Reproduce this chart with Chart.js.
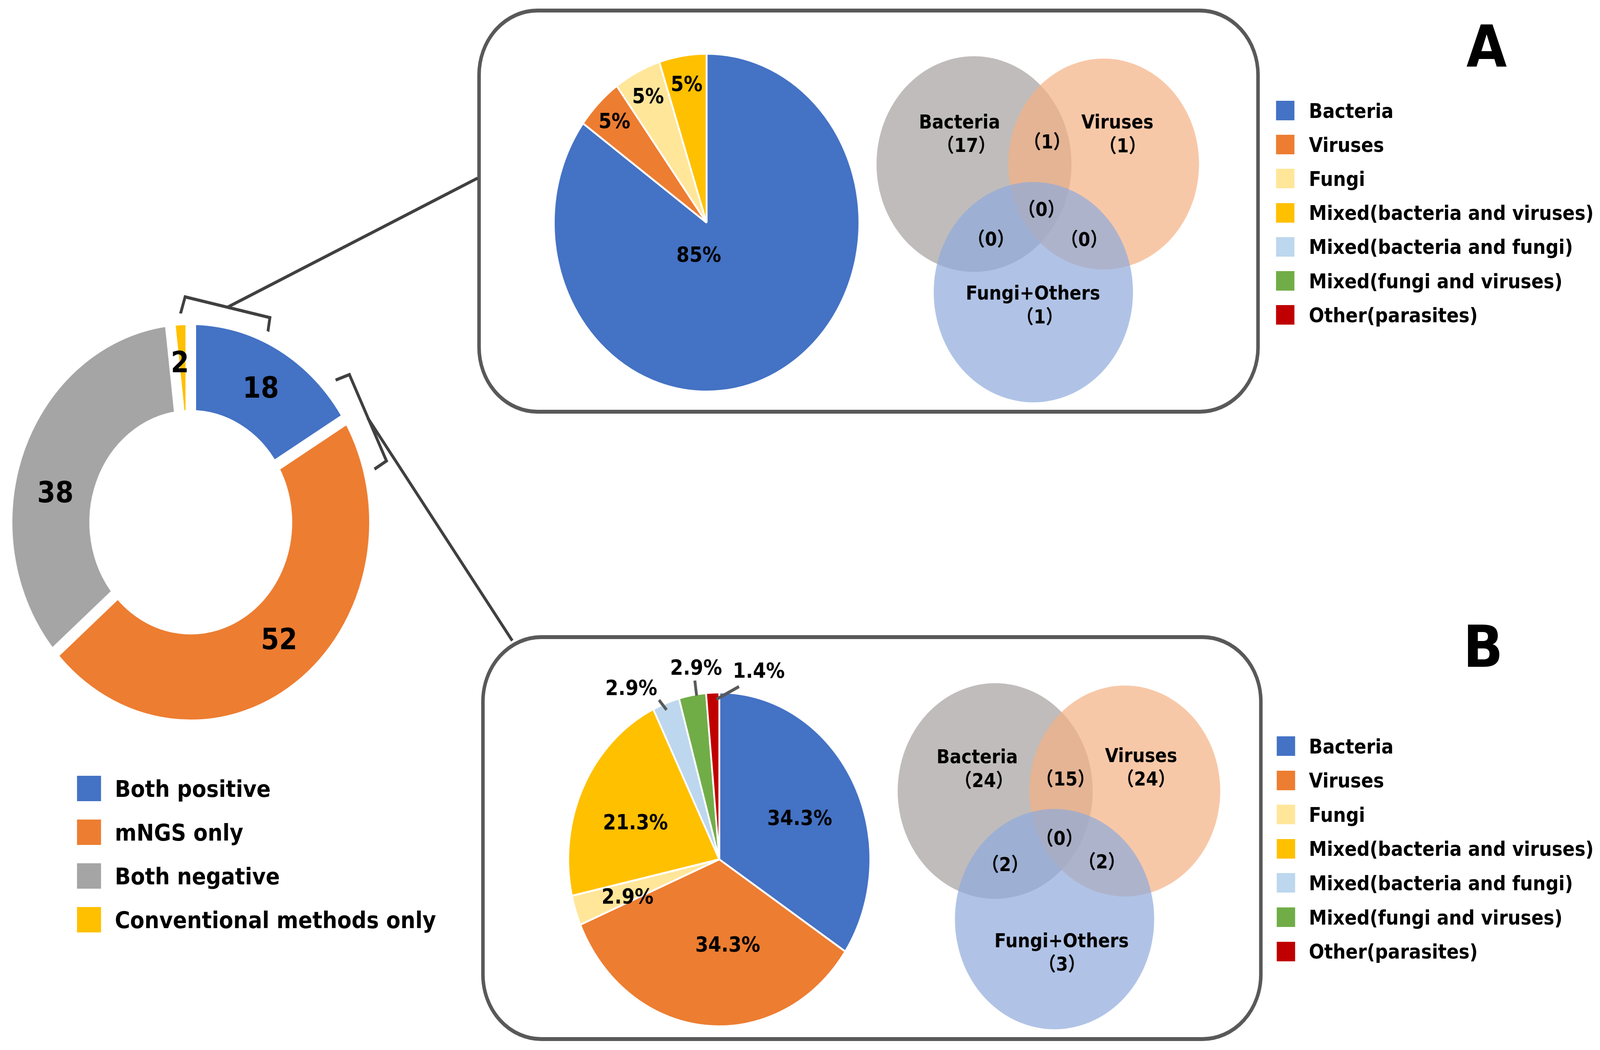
<!DOCTYPE html>
<html>
<head>
<meta charset="utf-8">
<script src="https://cdn.jsdelivr.net/npm/chart.js@4.4.1/dist/chart.umd.min.js"></script>
<style>
  html, body { margin:0; padding:0; background:#fff; width:100%; height:100%; overflow:hidden; }
  #page { position:absolute; left:0; top:0; width:4529px; height:2688px; background:#fff; transform-origin:0 0; }
  canvas.cv { position:absolute; }
  .lbl { position:absolute; font-family:"DejaVu Sans", sans-serif; font-weight:bold; color:#000; white-space:nowrap; line-height:1; }
</style>
</head>
<body>
<div id="page">
  <svg id="frame" width="4529" height="2688" style="position:absolute;left:0;top:0">
    <rect x="1356" y="27" width="2205" height="1027" rx="165" ry="165" fill="none" stroke="#595959" stroke-width="10"/>
    <rect x="1367" y="1631" width="2202" height="1029" rx="165" ry="165" fill="none" stroke="#595959" stroke-width="10"/>
    <polyline points="511,803 524,760 764,813 758,851" fill="none" stroke="#404040" stroke-width="8"/>
    <line x1="645" y1="786" x2="1352" y2="456" stroke="#404040" stroke-width="8"/>
    <polyline points="950,973 989,959 1094,1180 1060,1201" fill="none" stroke="#404040" stroke-width="8"/>
    <line x1="1041" y1="1070" x2="1450" y2="1640" stroke="#404040" stroke-width="8"/>
  </svg>

  <canvas id="donut" class="cv" style="left:-10px;top:787px;width:1100px;height:1100px"></canvas>
  <canvas id="pieA" class="cv" style="left:1500px;top:70px;width:1000px;height:1000px"></canvas>
  <canvas id="pieB" class="cv" style="left:1486px;top:1650px;width:1100px;height:1100px"></canvas>
  <canvas id="vennA" class="cv" style="left:2440px;top:98px;width:1000px;height:1000px"></canvas>
  <canvas id="vennB" class="cv" style="left:2500px;top:1703px;width:1000px;height:1000px"></canvas>

  <div class="lbl" style="left:4058px;top:46px;width:300px;text-align:center;font-size:148px">A</div>
  <div class="lbl" style="left:4048px;top:1582px;width:300px;text-align:center;font-size:148px">B</div>
</div>

<script>
// ---------------- DATA ----------------
const donutLabels = ['Both positive', 'mNGS only', 'Both negative', 'Conventional methods only'];
const donutValues = [18, 52, 38, 2];
const donutColors = ['#4472C4', '#ED7D31', '#A5A5A5', '#FFC000'];

const pathogenLabels = ['Bacteria', 'Viruses', 'Fungi', 'Mixed(bacteria and viruses)',
                        'Mixed(bacteria and fungi)', 'Mixed(fungi and viruses)', 'Other(parasites)'];
const pathogenColors = ['#4472C4', '#ED7D31', '#FFE699', '#FFC000', '#BDD7EE', '#70AD47', '#C00000'];
const pieAValues = [85, 5, 5, 5, 0, 0, 0];
const pieBValues = [34.3, 34.3, 2.9, 21.3, 2.9, 2.9, 1.4];

const vennSets = ['Bacteria', 'Viruses', 'Fungi+Others'];
// regions: Bacteria, Viruses, Fungi+Others, B∩V, B∩F, V∩F, B∩V∩F
const vennACounts = [17, 1, 1, 1, 0, 0, 0];
const vennBCounts = [24, 24, 3, 15, 2, 2, 0];

// ---------------- FIT PAGE TO WINDOW ----------------
const page = document.getElementById('page');
const SX = (window.innerWidth / 4529) || 1;
const SY = (window.innerHeight / 2688) || 1;
page.style.transform = 'scale(' + SX + ',' + SY + ')';
const DPR = (window.devicePixelRatio || 1) * Math.max(SX, SY);

// ---------------- STYLE / LAYOUT ----------------
const FONT = '"DejaVu Sans", "Noto Sans CJK SC", sans-serif';
const CAP = 0.729;

const VENN_LAYOUT = [ { x: 317, y: 322, r: 276 }, { x: 684, y: 322, r: 270 }, { x: 485, y: 650, r: 282 } ];
const VENN_COLORS = ['rgba(165,159,158,0.7)', 'rgba(244,177,131,0.7)', 'rgba(143,170,220,0.7)'];

const VENN_TEXT = {
  vennA: { counts: vennACounts,
           names: [[276, 213], [723, 213], [484, 651]],
           spots: [[295, 273], [738, 274], [503, 712], [524, 264], [365, 513], [629, 514], [508, 437]] },
  vennB: { counts: vennBCounts,
           names: [[266, 233], [730, 230], [505, 704]],
           spots: [[285, 294], [744, 290], [506, 764], [516, 290], [345, 509], [619, 502], [499, 442]] }
};

const LABEL_STYLE = {
  donut: { size: 74, decimals: 0, suffix: '',
           pos: [ { a: 29.8, r: 0.767 }, { a: 140, r: 0.748 }, { a: 281.5, r: 0.752 }, { a: 355.7, r: 0.792 } ] },
  pieA:  { size: 53, decimals: 0, suffix: '%',
           pos: [ { a: 195.2, r: 0.194 }, { r: 0.853 }, { r: 0.844 }, { r: 0.835 } ] },
  pieB:  { size: 53, decimals: 1, suffix: '%',
           pos: [ { a: 64.7, r: 0.589 }, { a: 173.7, r: 0.51 }, { a: 250.1, r: 0.646 }, { a: 292.1, r: 0.599 },
                  { a: 330.5, r: 1.184, lead: [338.7, 0.961, 337.3, 1.034] },
                  { a: 352.4, r: 1.163, lead: [351.3, 0.992, 351.4, 1.083] },
                  { a: 13.0,  r: 1.163, lead: [358.9, 0.959, 7.2, 1.043] } ] }
};

// ---------------- PLUGINS ----------------
const toRad = d => d * Math.PI / 180 - Math.PI / 2;

const sliceLabels = {
  id: 'sliceLabels',
  afterDatasetsDraw(chart) {
    const st = LABEL_STYLE[chart.canvas.id];
    if (!st) return;
    const ctx = chart.ctx;
    const meta = chart.getDatasetMeta(0);
    const vals = chart.data.datasets[0].data;
    ctx.save();
    ctx.font = 'bold ' + st.size + 'px ' + FONT;
    ctx.fillStyle = '#000';
    ctx.textAlign = 'center';
    ctx.textBaseline = 'alphabetic';
    meta.data.forEach((arc, i) => {
      const v = vals[i];
      if (!v) return;
      const p = st.pos[i] || {};
      const R = arc.outerRadius;
      const mid = (arc.startAngle + arc.endAngle) / 2;
      const a = p.a !== undefined ? toRad(p.a) : mid;
      const r = R * (p.r !== undefined ? p.r : 0.65);
      if (p.lead) {
        const [a1, r1, a2, r2] = p.lead;
        ctx.beginPath();
        ctx.moveTo(arc.x + R * r1 * Math.cos(toRad(a1)), arc.y + R * r1 * Math.sin(toRad(a1)));
        ctx.lineTo(arc.x + R * r2 * Math.cos(toRad(a2)), arc.y + R * r2 * Math.sin(toRad(a2)));
        ctx.strokeStyle = '#595959';
        ctx.lineWidth = 8;
        ctx.stroke();
      }
      const text = v.toFixed(st.decimals) + st.suffix;
      ctx.fillText(text, arc.x + r * Math.cos(a), arc.y + r * Math.sin(a) + st.size * CAP / 2);
    });
    ctx.restore();
  }
};

const vennLabels = {
  id: 'vennLabels',
  afterDatasetsDraw(chart) {
    const cfg = VENN_TEXT[chart.canvas.id];
    if (!cfg) return;
    const ctx = chart.ctx, xs = chart.scales.x, ys = chart.scales.y;
    const size = 49;
    ctx.save();
    ctx.font = 'bold ' + size + 'px ' + FONT;
    ctx.fillStyle = '#000';
    ctx.textAlign = 'center';
    ctx.textBaseline = 'alphabetic';
    const put = (t, p) => ctx.fillText(t, xs.getPixelForValue(p[0]), ys.getPixelForValue(p[1]) + size * CAP / 2);
    vennSets.forEach((n, i) => put(n, cfg.names[i]));
    cfg.counts.forEach((c, i) => put('\uFF08' + c + '\uFF09', cfg.spots[i]));
    ctx.restore();
  }
};

// ---------------- CHARTS ----------------
function baseOpts(extra) {
  return Object.assign({
    responsive: false, maintainAspectRatio: false, animation: false, devicePixelRatio: DPR, events: [],
    layout: { padding: 0, autoPadding: false },
    plugins: { legend: { display: false }, tooltip: { enabled: false } }
  }, extra);
}
function sizeCanvas(id) {
  const c = document.getElementById(id);
  c.width = parseFloat(c.style.width);
  c.height = parseFloat(c.style.height);
  return c;
}

new Chart(sizeCanvas('donut'), {
  type: 'doughnut',
  data: { labels: donutLabels, datasets: [{ data: donutValues, backgroundColor: donutColors,
          borderColor: '#ffffff', borderWidth: 30 }] },
  options: baseOpts({ radius: 520, cutout: 280, rotation: 0 }),
  plugins: [sliceLabels]
});

new Chart(sizeCanvas('pieA'), {
  type: 'pie',
  data: { labels: pathogenLabels, datasets: [{ data: pieAValues, backgroundColor: pathogenColors,
          borderColor: '#ffffff', borderWidth: 5 }] },
  options: baseOpts({ radius: 432.5, rotation: 0 }),
  plugins: [sliceLabels]
});

new Chart(sizeCanvas('pieB'), {
  type: 'pie',
  data: { labels: pathogenLabels, datasets: [{ data: pieBValues, backgroundColor: pathogenColors,
          borderColor: '#ffffff', borderWidth: 5 }] },
  options: baseOpts({ radius: 427.5, rotation: 0 }),
  plugins: [sliceLabels]
});

function venn(id) {
  new Chart(sizeCanvas(id), {
    type: 'bubble',
    data: { labels: vennSets, datasets: [{
      data: VENN_LAYOUT.map(c => ({ x: c.x, y: c.y, r: c.r })),
      backgroundColor: VENN_COLORS, borderWidth: 0, hoverRadius: 0, clip: false }] },
    options: baseOpts({
      scales: { x: { type: 'linear', min: 0, max: 1000, display: false },
                y: { type: 'linear', min: 0, max: 1000, reverse: true, display: false } } }),
    plugins: [vennLabels]
  });
}
venn('vennA');
venn('vennB');

// ---------------- HTML LEGENDS ----------------
function legend(labels, colors, cfg) {
  labels.forEach((lab, i) => {
    const cy = cfg.y0 + cfg.dy * i;
    const sq = document.createElement('div');
    sq.style.cssText = 'position:absolute;left:' + cfg.sqX + 'px;top:' + (cy - cfg.sqH / 2) + 'px;width:' +
      cfg.sqW + 'px;height:' + cfg.sqH + 'px;background:' + colors[i];
    const tx = document.createElement('div');
    tx.className = 'lbl';
    tx.textContent = lab;
    tx.style.left = cfg.textX + 'px';
    tx.style.top = (cy - 0.48 * cfg.size) + 'px';
    tx.style.fontSize = cfg.size + 'px';
    page.appendChild(sq);
    page.appendChild(tx);
  });
}
legend(donutLabels, donutColors, { y0: 2018, dy: 112, sqX: 218, sqW: 68, sqH: 65, textX: 325, size: 59 });
legend(pathogenLabels, pathogenColors, { y0: 283, dy: 87.2, sqX: 3612, sqW: 52, sqH: 50, textX: 3705, size: 51 });
legend(pathogenLabels, pathogenColors, { y0: 1910, dy: 87.6, sqX: 3614, sqW: 52, sqH: 50, textX: 3705, size: 51 });
</script>
</body>
</html>
